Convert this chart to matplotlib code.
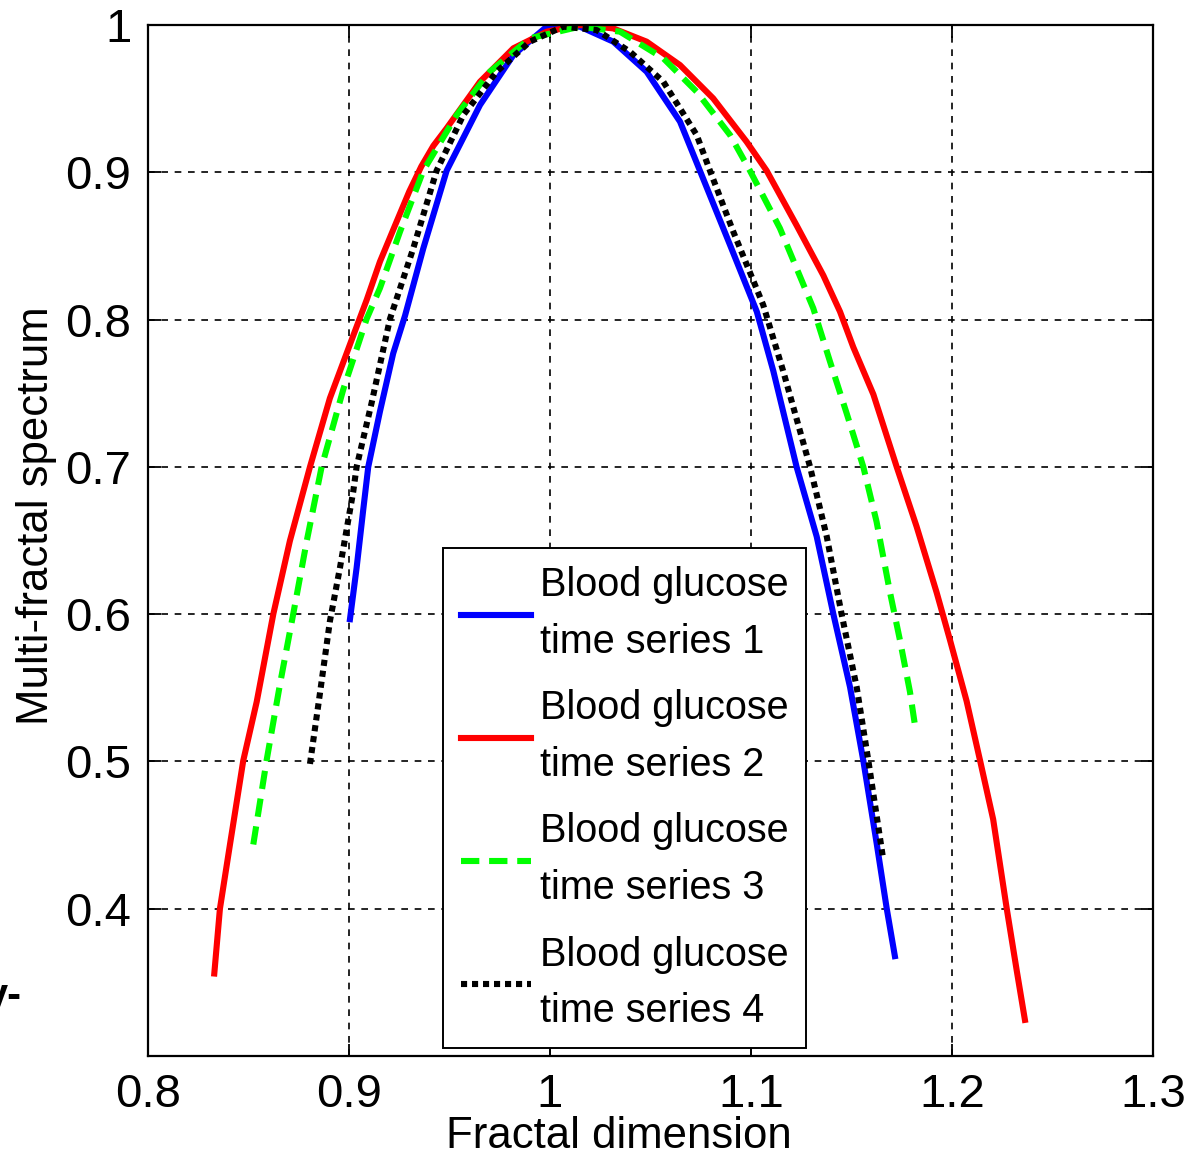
import matplotlib
matplotlib.use("Agg")
import matplotlib.pyplot as plt

# multifractal spectra
x1 = [0.9005, 0.9038, 0.9071, 0.9096, 0.9154, 0.9220, 0.9279, 0.9370, 0.9486, 0.9652,
      0.9818, 0.9984, 1.0149, 1.0315, 1.0481, 1.0647, 1.0746, 1.0896, 1.1029, 1.1111,
      1.1227, 1.1327, 1.1410, 1.1493, 1.1559, 1.1625, 1.1675, 1.1716]
y1 = [0.5966, 0.6314, 0.6709, 0.700, 0.7375, 0.777, 0.8027, 0.8484, 0.9011, 0.9457,
      0.9796, 0.9989, 0.9989, 0.9887, 0.9683, 0.9344, 0.9011, 0.8506, 0.8054, 0.7652,
      0.700, 0.6527, 0.600, 0.5504, 0.5005, 0.4447, 0.4005, 0.3678]

x2 = [0.8330, 0.8358, 0.8408, 0.8474, 0.8541, 0.8624, 0.8706, 0.8806, 0.8905, 0.9021,
      0.9088, 0.9154, 0.9237, 0.9300, 0.9360, 0.9420, 0.9486, 0.9652, 0.9818, 0.9984,
      1.0149, 1.0315, 1.0481, 1.0647, 1.0812, 1.0978, 1.1078, 1.1227, 1.1360, 1.1443,
      1.1509, 1.1609, 1.1725, 1.1824, 1.1924, 1.1990, 1.2073, 1.2140, 1.2205, 1.2272,
      1.2322, 1.2363]
y2 = [0.356, 0.400, 0.4436, 0.5005, 0.5405, 0.6003, 0.6497, 0.700, 0.7466, 0.789,
      0.8133, 0.8393, 0.8665, 0.887, 0.904, 0.918, 0.9299, 0.9615, 0.9842, 0.9955,
      1.000, 0.9977, 0.9887, 0.9728, 0.9502, 0.9208, 0.9011, 0.864, 0.830, 0.8054,
      0.7813, 0.7492, 0.700, 0.6595, 0.6146, 0.5825, 0.5409, 0.5005, 0.4607, 0.4005,
      0.3582, 0.3245]

x3 = [0.8524, 0.8590, 0.8657, 0.8723, 0.8790, 0.8864, 0.8972, 0.9088, 0.9154, 0.9254,
      0.9370, 0.9536, 0.9701, 0.9900, 1.0149, 1.0348, 1.0564, 1.0730, 1.0896, 1.0995,
      1.1144, 1.1310, 1.1393, 1.1476, 1.1559, 1.1625, 1.1692, 1.1741, 1.1791, 1.1821]
y3 = [0.4436, 0.5005, 0.5526, 0.6003, 0.6497, 0.700, 0.7527, 0.8005, 0.8213, 0.8597,
      0.9011, 0.9389, 0.9683, 0.991, 0.9989, 0.9955, 0.9774, 0.9547, 0.9253, 0.9011,
      0.862, 0.8077, 0.7716, 0.7364, 0.700, 0.6627, 0.6146, 0.5825, 0.5473, 0.520]

x4 = [0.8806, 0.8856, 0.8905, 0.8955, 0.9021, 0.9038, 0.9113, 0.9204, 0.9320, 0.9436,
      0.9569, 0.9735, 0.9900, 1.0066, 1.0232, 1.0398, 1.0564, 1.0730, 1.0796, 1.0912,
      1.1061, 1.1160, 1.1294, 1.1377, 1.1451, 1.1526, 1.1584, 1.1658]
y4 = [0.4983, 0.5466, 0.5951, 0.6314, 0.683, 0.700, 0.7436, 0.8005, 0.8484, 0.9011,
      0.9389, 0.9683, 0.9887, 0.9989, 0.9966, 0.9819, 0.9615, 0.9253, 0.9011, 0.8597,
      0.8099, 0.7652, 0.700, 0.6527, 0.600, 0.5504, 0.5005, 0.4335]

labels = ["Blood glucose\ntime series 1", "Blood glucose\ntime series 2",
          "Blood glucose\ntime series 3", "Blood glucose\ntime series 4"]
xticks = [0.8, 0.9, 1.0, 1.1, 1.2, 1.3]
xticklabels = ["0.8", "0.9", "1", "1.1", "1.2", "1.3"]
yticks = [0.4, 0.5, 0.6, 0.7, 0.8, 0.9, 1.0]
yticklabels = ["0.4", "0.5", "0.6", "0.7", "0.8", "0.9", "1"]

plt.rcParams["font.family"] = ["Liberation Sans", "DejaVu Sans"]

fig = plt.figure(figsize=(12.03, 11.58), dpi=100)
ax = fig.add_axes([0.123, 0.0881, 0.8354, 0.8903])

lw = 4.4
ax.plot(x1, y1, color=(0, 0, 1), lw=lw, label=labels[0])
ax.plot(x2, y2, color=(1, 0, 0), lw=lw, label=labels[1])
ax.plot(x3, y3, color=(0, 1, 0), lw=lw, linestyle=(0, (3.0, 1.6)), label=labels[2])
ax.plot(x4, y4, color="black", lw=lw, linestyle=(0, (1.0, 0.8)), label=labels[3])

ax.set_xlim(0.8, 1.3)
ax.set_ylim(0.3, 1.0)
ax.set_xticks(xticks)
ax.set_xticklabels(xticklabels)
ax.set_yticks(yticks)
ax.set_yticklabels(yticklabels)
ax.tick_params(direction="in", length=9, width=1.3, top=True, right=True,
               labelsize=34, pad=12)
ax.grid(True, color="black", linestyle=(0, (4, 4)), linewidth=1.2)
for s in ax.spines.values():
    s.set_linewidth(1.6)

leg = ax.legend(loc="lower left", bbox_to_anchor=(0.2935, 0.0078),
                prop={"size": 28.5},
                frameon=True, fancybox=False, edgecolor="black", framealpha=1,
                handlelength=1.77, handletextpad=0.22, labelspacing=0.72,
                borderpad=0.45, borderaxespad=0)
leg.get_frame().set_linewidth(1.4)
for t in leg.get_texts():
    t.set_linespacing(1.62)

fig.text(619 / 1203, 1 / 1158, "Fractal dimension",
         fontsize=31.5, ha="center", va="bottom")
fig.text(37 / 1203, 1 - 516 / 1158, "Multi-fractal spectrum",
         fontsize=31.5, rotation=90, ha="center", va="center")
# clipped fragment at the left edge of the source image
fig.text(22 / 1203, 1 - 1008 / 1158, "y-", fontsize=30, weight="bold",
         ha="right", va="baseline")

fig.savefig("out.png", dpi=100)
